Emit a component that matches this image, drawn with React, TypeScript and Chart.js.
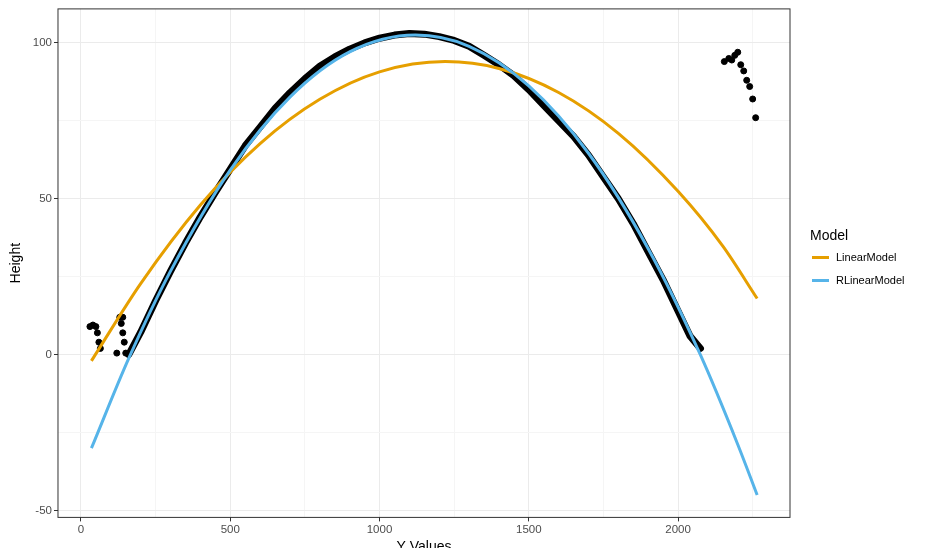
import React, { useEffect, useRef } from 'react';
import Chart from 'chart.js/auto';

const observedX = [160, 200, 250, 300, 350, 400, 450, 500, 550, 600, 650, 700, 750, 800, 850, 900, 950, 1000, 1050, 1100, 1150, 1200, 1250, 1300, 1350, 1400, 1450, 1500, 1550, 1600, 1650, 1700, 1750, 1800, 1850, 1900, 1950, 2000, 2040, 2075];
const observedY = [0, 7.2, 17.3, 26.8, 35.8, 44.2, 52, 59.5, 67, 73, 79, 84, 88.5, 92.5, 95.5, 98, 100, 101.5, 102.5, 103, 102.8, 102, 100.8, 98.9, 96, 93, 89.5, 85, 80, 75, 70, 64, 57, 50, 42, 33, 24, 14, 6, 2];
const outlierX = [30, 40, 50, 55, 60, 65, 120, 130, 135, 140, 145, 150, 140, 2155, 2170, 2180, 2190, 2200, 2210, 2220, 2230, 2240, 2250, 2260];
const outlierY = [9, 9.5, 9, 7, 4, 2, 0.5, 12, 10, 7, 4, 0.5, 12, 94, 95, 94.5, 96, 97, 93, 91, 88, 86, 82, 76];
const linearX = [35, 200, 400, 600, 800, 1000, 1220, 1400, 1600, 1800, 2000, 2150, 2265];
const linearY = [-2, 22.8, 48, 67.7, 81.9, 90.7, 94, 91.8, 84.1, 71, 52.4, 34.8, 18];
const robustX = [35, 160, 300, 500, 700, 900, 1120, 1300, 1500, 1700, 1900, 2075, 2200, 2265];
const robustY = [-30, -1.2, 26.8, 59.2, 82.6, 97.1, 102.5, 98.9, 86.2, 64.6, 34, -0.1, -28.8, -45];
const xTicks = [0, 250, 500, 750, 1000, 1250, 1500, 1750, 2000, 2250];
const yTicks = [-50, -25, 0, 25, 50, 75, 100];

const zip = (xs: number[], ys: number[]) => xs.map((x, i) => ({ x, y: ys[i] }));

const panelBorder = {
  id: 'panelBorder',
  afterDraw(chart: Chart) {
    const { ctx, chartArea: a } = chart;
    ctx.save();
    ctx.strokeStyle = '#333333';
    ctx.lineWidth = 1;
    ctx.strokeRect(a.left, a.top, a.right - a.left, a.bottom - a.top);
    ctx.restore();
  },
};

const App: React.FC = () => {
  const ref = useRef<HTMLCanvasElement>(null);

  useEffect(() => {
    if (!ref.current) return;
    const font = { family: 'Liberation Sans', size: 11.5 };
    const major = (step: number) => (c: any) => c.tick && c.tick.value % step === 0;
    const chart = new Chart(ref.current, {
      type: 'scatter',
      data: {
        datasets: [
          { order: 4, data: zip(observedX, observedY), showLine: true, borderColor: '#000', borderWidth: 7, pointRadius: 0, borderCapStyle: 'round', borderJoinStyle: 'round' },
          { order: 3, data: zip(outlierX, outlierY), backgroundColor: '#000', borderColor: '#000', pointRadius: 3 },
          { order: 2, data: zip(linearX, linearY), showLine: true, borderColor: '#E69F00', borderWidth: 3, pointRadius: 0, cubicInterpolationMode: 'monotone' },
          { order: 1, data: zip(robustX, robustY), showLine: true, borderColor: '#56B4E9', borderWidth: 3, pointRadius: 0, cubicInterpolationMode: 'monotone' },
        ],
      },
      options: {
        animation: false,
        responsive: false,
        layout: { padding: { right: 139, top: 1, left: 4, bottom: 0 } },
        plugins: { legend: { display: false }, tooltip: { enabled: false } },
        scales: {
          x: {
            min: -77, max: 2375,
            afterBuildTicks: (s: any) => { s.ticks = xTicks.map((v) => ({ value: v })); },
            ticks: { font, color: '#4d4d4d', autoSkip: false, maxRotation: 0, padding: 2, callback: (v: any) => (v % 500 === 0 ? String(v) : '') },
            grid: {
              color: (c: any) => (major(500)(c) ? '#ebebeb' : '#f5f5f5'),
              tickColor: (c: any) => (major(500)(c) ? '#333' : 'rgba(0,0,0,0)'),
              tickLength: 4,
            },
            border: { display: false },
            title: { display: true, text: 'Y Values', font: { family: 'Liberation Sans', size: 14 }, color: '#000', padding: { top: 0, bottom: 0 } },
          },
          y: {
            min: -52.2, max: 110.9,
            afterBuildTicks: (s: any) => { s.ticks = yTicks.map((v) => ({ value: v })); },
            ticks: { font, color: '#4d4d4d', autoSkip: false, padding: 2, callback: (v: any) => (v % 50 === 0 ? String(v) : '') },
            grid: {
              color: (c: any) => (major(50)(c) ? '#ebebeb' : '#f5f5f5'),
              tickColor: (c: any) => (major(50)(c) ? '#333' : 'rgba(0,0,0,0)'),
              tickLength: 4,
            },
            border: { display: false },
            title: { display: true, text: 'Height', font: { family: 'Liberation Sans', size: 14 }, color: '#000', padding: { bottom: 6 } },
          },
        },
      },
      plugins: [panelBorder],
    });
    return () => chart.destroy();
  }, []);

  const item = (color: string, label: string, top: number) => (
    <div style={{ position: 'absolute', left: 812, top, display: 'flex', alignItems: 'center', fontSize: 11, fontFamily: 'Liberation Sans' }}>
      <div style={{ width: 17, height: 3, background: color, marginRight: 7 }} />
      {label}
    </div>
  );

  return (
    <div style={{ position: 'relative', width: 929, height: 556, margin: -8, background: '#fff' }}>
      <canvas ref={ref} width={929} height={556} />
      <div style={{ position: 'absolute', left: 810, top: 227, fontSize: 14, fontFamily: 'Liberation Sans' }}>Model</div>
      {item('#E69F00', 'LinearModel', 251)}
      {item('#56B4E9', 'RLinearModel', 274)}
    </div>
  );
};

export default App;
